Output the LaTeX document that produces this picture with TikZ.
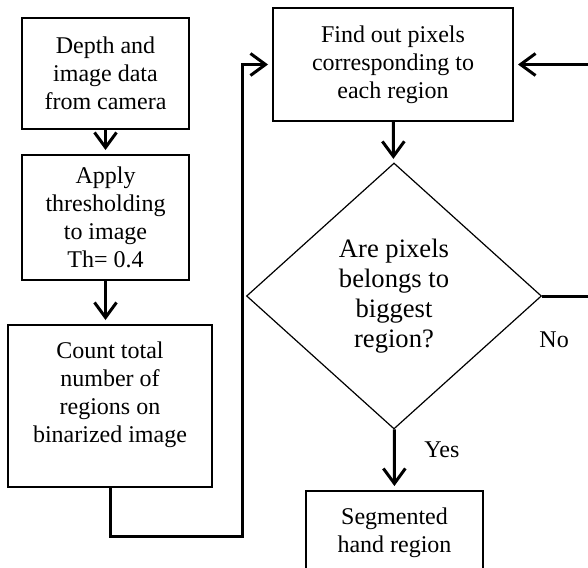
\documentclass[tikz,border=0pt]{standalone}
\usepackage{fontspec}
\setmainfont{Liberation Serif}
\usetikzlibrary{arrows.meta,positioning,calc,shapes.geometric}

\begin{document}
\begin{tikzpicture}[>={Straight Barb[length=7.5pt,width=11pt]},x=0.5pt,y=-0.5pt,
  font=\fontsize{12}{14}\selectfont,
  stepbox/.style={draw,line width=1pt,align=center,inner sep=0pt},
  flow/.style={->,line width=1.5pt,shorten >=2pt}]
\useasboundingbox (0,0) rectangle (588,567);
% left column
\node[stepbox,minimum width=83.5pt,minimum height=55.5pt] (cam) at (105.5,73.5) {Depth and\\image data\\from camera};
\node[stepbox,minimum width=83.5pt,minimum height=62.5pt] (thr) at (105.5,217.5) {Apply\\thresholding\\to image\\Th= 0.4};
\node[stepbox,minimum width=102pt,minimum height=81pt] (cnt) at (110,406) {Count total\\number of\\regions on\\binarized image\\ \mbox{}};
% right column
\node[stepbox,minimum width=120pt,minimum height=56.5pt] (find) at (393,64.5) {Find out pixels\\corresponding to\\each region};
\node[diamond,draw,line width=0.6pt,inner sep=0pt,align=center,minimum width=147.5pt,minimum height=133pt,
  font=\fontsize{13.3}{15}\selectfont] (big) at (394,296) {Are pixels\\belongs to\\biggest\\region?};
\node[stepbox,minimum width=88.5pt,minimum height=42pt] (seg) at (394.5,533) {Segmented\\hand region};
% connectors
\draw[flow] (cam) -- (thr);
\draw[flow] (thr.south) -- (thr.south |- cnt.north);
\draw[flow] (cnt.south) -- ++(0,48) -| ($(find.west)+(-30,0)$) -- (find.west);
\draw[flow] (find) -- (big);
\draw[flow] (big.east) -- ++(50,0) |- (find.east);
\draw[flow] (big) -- (seg) node[pos=0.34,right=11pt] {Yes};
\node (no) at ($(big.east)+(12,44)$) {No};
\end{tikzpicture}
\end{document}
